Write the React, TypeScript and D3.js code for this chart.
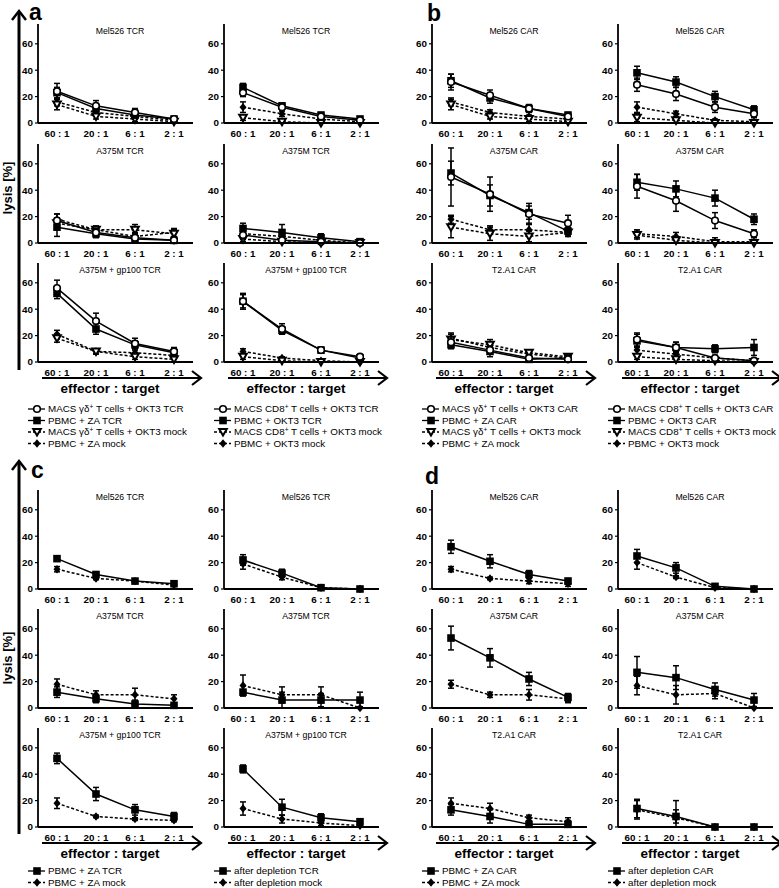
import React from "react";
import * as d3 from "d3";

const W = 779, H = 888;
const FONT = "'Liberation Sans', Arial, sans-serif";

const CATS = ["60 : 1", "20 : 1", "6 : 1", "2 : 1"];
const Y_TICKS = [0, 20, 40, 60];

// legend labels
const legendA1 = ["MACS γδ⁺ T cells + OKT3 TCR", "PBMC + ZA TCR", "MACS γδ⁺ T cells + OKT3 mock", "PBMC + ZA mock"];
const legendA2 = ["MACS CD8⁺ T cells + OKT3 TCR", "PBMC + OKT3 TCR", "MACS CD8⁺ T cells + OKT3 mock", "PBMC + OKT3 mock"];
const legendB1 = ["MACS γδ⁺ T cells + OKT3 CAR", "PBMC + ZA CAR", "MACS γδ⁺ T cells + OKT3 mock", "PBMC + ZA mock"];
const legendB2 = ["MACS CD8⁺ T cells + OKT3 CAR", "PBMC + OKT3 CAR", "MACS CD8⁺ T cells + OKT3 mock", "PBMC + OKT3 mock"];
const legendC1 = ["PBMC + ZA TCR", "PBMC + ZA mock"];
const legendC2 = ["after depletion TCR", "after depletion mock"];
const legendD1 = ["PBMC + ZA CAR", "PBMC + ZA mock"];
const legendD2 = ["after depletion CAR", "after depletion mock"];

// panel a, left column  (series order: γδ TCR, ZA TCR, γδ mock, ZA mock)
const a1Mel526 = [[24, 13, 8, 3], [23, 11, 6, 3], [14, 5, 3, 1], [16, 8, 5, 2]];
const a1Mel526Err = [[6, 4, 3, 1], [4, 3, 2, 1], [4, 2, 2, 1], [3, 2, 1, 1]];
const a1A375 = [[17, 8, 4, 2], [12, 7, 3, 2], [15, 10, 10, 7], [18, 10, 5, 8]];
const a1A375Err = [[5, 3, 3, 2], [7, 3, 2, 2], [4, 3, 4, 3], [4, 2, 3, 3]];
const a1Gp100 = [[56, 31, 14, 8], [52, 25, 13, 7], [18, 8, 4, 2], [21, 8, 7, 5]];
const a1Gp100Err = [[6, 6, 4, 3], [4, 4, 3, 3], [3, 2, 2, 2], [3, 2, 2, 2]];

// panel a, right column (CD8 TCR, OKT3 TCR, CD8 mock, OKT3 mock)
const a2Mel526 = [[23, 12, 5, 2], [27, 13, 6, 3], [4, 1, 0, 0], [12, 7, 3, 1]];
const a2Mel526Err = [[3, 2, 2, 1], [3, 2, 2, 2], [2, 1, 1, 0], [4, 2, 2, 1]];
const a2A375 = [[6, 2, 1, 0], [11, 8, 4, 1], [3, 1, 0, 0], [7, 5, 2, 0]];
const a2A375Err = [[3, 2, 1, 1], [4, 6, 3, 1], [2, 1, 1, 0], [3, 3, 2, 1]];
const a2Gp100 = [[46, 25, 9, 4], [46, 24, 9, 3], [4, 1, 0, 0], [8, 3, 1, 0]];
const a2Gp100Err = [[6, 4, 2, 1], [5, 3, 2, 1], [2, 1, 1, 0], [2, 1, 1, 0]];

// panel b, left column
const b1Mel526 = [[31, 21, 11, 5], [32, 19, 11, 6], [14, 5, 3, 1], [16, 8, 5, 3]];
const b1Mel526Err = [[6, 4, 3, 2], [5, 4, 2, 2], [4, 2, 2, 1], [3, 2, 1, 1]];
const b1A375 = [[50, 37, 22, 15], [53, 36, 23, 9], [12, 7, 5, 8], [18, 10, 10, 8]];
const b1A375Err = [[22, 13, 8, 6], [9, 8, 5, 3], [8, 5, 4, 3], [3, 3, 5, 3]];
const b1T2 = [[15, 9, 3, 2], [13, 8, 2, 3], [17, 13, 7, 4], [18, 11, 6, 3]];
const b1T2Err = [[4, 3, 2, 1], [3, 4, 2, 2], [4, 4, 2, 2], [4, 3, 2, 2]];

// panel b, right column
const b2Mel526 = [[29, 22, 12, 7], [38, 31, 20, 10], [4, 2, 0, 0], [12, 7, 2, 1]];
const b2Mel526Err = [[5, 5, 4, 3], [5, 4, 4, 3], [3, 2, 1, 0], [4, 2, 1, 1]];
const b2A375 = [[43, 32, 17, 7], [46, 41, 34, 18], [6, 2, 0, 0], [7, 5, 1, 1]];
const b2A375Err = [[9, 8, 6, 3], [6, 6, 6, 4], [3, 2, 1, 1], [3, 3, 3, 1]];
const b2T2 = [[17, 11, 3, 1], [16, 11, 10, 11], [4, 2, 1, 0], [9, 6, 3, 1]];
const b2T2Err = [[5, 4, 2, 1], [5, 4, 3, 6], [2, 2, 1, 1], [3, 2, 2, 1]];

// panel c (TCR / mock)
const c1Mel526 = [[23, 11, 6, 4], [15, 8, 6, 3]];
const c1Mel526Err = [[2, 2, 1, 1], [2, 1, 1, 1]];
const c1A375 = [[12, 7, 3, 2], [18, 10, 10, 7]];
const c1A375Err = [[4, 3, 3, 2], [4, 3, 5, 3]];
const c1Gp100 = [[52, 25, 13, 8], [18, 8, 6, 5]];
const c1Gp100Err = [[4, 5, 4, 3], [4, 1, 1, 1]];
const c2Mel526 = [[22, 12, 1, 0], [19, 9, 1, 0]];
const c2Mel526Err = [[4, 3, 1, 0], [4, 2, 1, 0]];
const c2A375 = [[12, 6, 6, 6], [17, 10, 10, 0]];
const c2A375Err = [[2, 6, 5, 6], [8, 6, 6, 1]];
const c2Gp100 = [[44, 15, 7, 4], [14, 6, 3, 1]];
const c2Gp100Err = [[3, 6, 3, 1], [5, 3, 2, 1]];

// panel d (CAR / mock)
const d1Mel526 = [[32, 21, 11, 6], [15, 8, 6, 4]];
const d1Mel526Err = [[5, 5, 3, 2], [2, 1, 2, 2]];
const d1A375 = [[53, 38, 22, 8], [18, 10, 10, 7]];
const d1A375Err = [[9, 7, 5, 3], [3, 2, 4, 3]];
const d1T2 = [[13, 8, 2, 2], [18, 14, 7, 4]];
const d1T2Err = [[4, 5, 2, 3], [4, 4, 2, 3]];
const d2Mel526 = [[25, 16, 2, 0], [20, 9, 1, 0]];
const d2Mel526Err = [[5, 4, 1, 0], [5, 1, 1, 0]];
const d2A375 = [[27, 23, 14, 6], [17, 10, 11, 0]];
const d2A375Err = [[12, 9, 5, 5], [7, 7, 4, 1]];
const d2T2 = [[14, 8, 0, 0], [13, 7, 0, 0]];
const d2T2Err = [[7, 5, 0, 0], [7, 13, 0, 0]];

const COL_X = [38, 224, 432, 618];
const TOP_ROWS = [123, 243, 362];
const BOT_ROWS = [589, 708, 827];

const SHAPES4 = ["circle", "square", "triangle", "diamond"];
const SHAPES2 = ["square", "diamond"];

const panels = [
  { c: 0, y0: TOP_ROWS[0], title: "Mel526 TCR", m: a1Mel526, e: a1Mel526Err },
  { c: 0, y0: TOP_ROWS[1], title: "A375M TCR", m: a1A375, e: a1A375Err },
  { c: 0, y0: TOP_ROWS[2], title: "A375M + gp100 TCR", m: a1Gp100, e: a1Gp100Err },
  { c: 1, y0: TOP_ROWS[0], title: "Mel526 TCR", m: a2Mel526, e: a2Mel526Err },
  { c: 1, y0: TOP_ROWS[1], title: "A375M TCR", m: a2A375, e: a2A375Err },
  { c: 1, y0: TOP_ROWS[2], title: "A375M + gp100 TCR", m: a2Gp100, e: a2Gp100Err },
  { c: 2, y0: TOP_ROWS[0], title: "Mel526 CAR", m: b1Mel526, e: b1Mel526Err },
  { c: 2, y0: TOP_ROWS[1], title: "A375M CAR", m: b1A375, e: b1A375Err },
  { c: 2, y0: TOP_ROWS[2], title: "T2.A1 CAR", m: b1T2, e: b1T2Err },
  { c: 3, y0: TOP_ROWS[0], title: "Mel526 CAR", m: b2Mel526, e: b2Mel526Err },
  { c: 3, y0: TOP_ROWS[1], title: "A375M CAR", m: b2A375, e: b2A375Err },
  { c: 3, y0: TOP_ROWS[2], title: "T2.A1 CAR", m: b2T2, e: b2T2Err },
  { c: 0, y0: BOT_ROWS[0], title: "Mel526 TCR", m: c1Mel526, e: c1Mel526Err },
  { c: 0, y0: BOT_ROWS[1], title: "A375M TCR", m: c1A375, e: c1A375Err },
  { c: 0, y0: BOT_ROWS[2], title: "A375M + gp100 TCR", m: c1Gp100, e: c1Gp100Err },
  { c: 1, y0: BOT_ROWS[0], title: "Mel526 TCR", m: c2Mel526, e: c2Mel526Err },
  { c: 1, y0: BOT_ROWS[1], title: "A375M TCR", m: c2A375, e: c2A375Err },
  { c: 1, y0: BOT_ROWS[2], title: "A375M + gp100 TCR", m: c2Gp100, e: c2Gp100Err },
  { c: 2, y0: BOT_ROWS[0], title: "Mel526 CAR", m: d1Mel526, e: d1Mel526Err },
  { c: 2, y0: BOT_ROWS[1], title: "A375M CAR", m: d1A375, e: d1A375Err },
  { c: 2, y0: BOT_ROWS[2], title: "T2.A1 CAR", m: d1T2, e: d1T2Err },
  { c: 3, y0: BOT_ROWS[0], title: "Mel526 CAR", m: d2Mel526, e: d2Mel526Err },
  { c: 3, y0: BOT_ROWS[1], title: "A375M CAR", m: d2A375, e: d2A375Err },
  { c: 3, y0: BOT_ROWS[2], title: "T2.A1 CAR", m: d2T2, e: d2T2Err },
];

const legends = [
  { c: 0, y: 409, labels: legendA1 }, { c: 1, y: 409, labels: legendA2 },
  { c: 2, y: 409, labels: legendB1 }, { c: 3, y: 409, labels: legendB2 },
  { c: 0, y: 871, labels: legendC1 }, { c: 1, y: 871, labels: legendC2 },
  { c: 2, y: 871, labels: legendD1 }, { c: 3, y: 871, labels: legendD2 },
];

function Marker({ shape, x, y }: { shape: string; x: number; y: number }) {
  if (shape === "circle")
    return <circle cx={x} cy={y} r={3.3} fill="#fff" stroke="#000" strokeWidth={1.6} />;
  if (shape === "square")
    return <rect x={x - 3.8} y={y - 3.8} width={7.6} height={7.6} fill="#000" />;
  if (shape === "triangle")
    return <path d={`M${x - 3.8},${y - 3}L${x + 3.8},${y - 3}L${x},${y + 3.6}Z`} fill="#fff" stroke="#000" strokeWidth={2} />;
  return <path d={`M${x},${y - 4.2}L${x + 3.5},${y}L${x},${y + 4.2}L${x - 3.5},${y}Z`} fill="#000" />;
}

function supText(s: string) {
  const parts = s.split("⁺");
  if (parts.length === 1) return s;
  return [
    parts[0],
    <tspan key="s" dy={-3.5} fontSize={6.5}>+</tspan>,
    <tspan key="r" dy={3.5}>{parts[1]}</tspan>,
  ];
}

function Panel({ p }: { p: any }) {
  const x0 = COL_X[p.c];
  const y = d3.scaleLinear().domain([0, 75]).range([p.y0, p.y0 - 99]);
  const x = d3.scalePoint<string>().domain(CATS).range([x0 + 19, x0 + 136]);
  const shapes = p.m.length === 4 ? SHAPES4 : SHAPES2;
  const dashedFrom = p.m.length === 4 ? 2 : 1;
  const line = d3.line<number>().x((_, i) => x(CATS[i]) as number).y((v) => y(v));
  const order = p.m.map((_: any, i: number) => i).reverse();
  return (
    <g>
      <text x={x0 + 82} y={p.y0 - 89} fontSize={8.7} textAnchor="middle">{p.title}</text>
      {order.map((si: number) => (
        <g key={si}>
          <path d={line(p.m[si]) as string} fill="none" stroke="#000" strokeWidth={1.5}
            strokeDasharray={si >= dashedFrom ? "3,2" : undefined} />
          {p.m[si].map((v: number, i: number) => {
            const cx = x(CATS[i]) as number;
            const er = p.e[si][i];
            if (!er) return null;
            const lo = y(Math.max(0, v - er)), hi = y(v + er);
            return (
              <g key={i} stroke="#000" strokeWidth={1.5}>
                <line x1={cx} x2={cx} y1={lo} y2={hi} />
                <line x1={cx - 3} x2={cx + 3} y1={hi} y2={hi} />
                <line x1={cx - 3} x2={cx + 3} y1={lo} y2={lo} />
              </g>
            );
          })}
          {p.m[si].map((v: number, i: number) => (
            <Marker key={"m" + i} shape={shapes[si]} x={x(CATS[i]) as number} y={y(v)} />
          ))}
        </g>
      ))}
      <line x1={x0} x2={x0} y1={y(0)} y2={y(75)} stroke="#000" strokeWidth={1.8} />
      <line x1={x0} x2={x0 + 155} y1={y(0)} y2={y(0)} stroke="#000" strokeWidth={1.8} />
      {Y_TICKS.map((t) => (
        <g key={t}>
          <line x1={x0 - 3} x2={x0} y1={y(t)} y2={y(t)} stroke="#000" strokeWidth={1.2} />
          <text x={x0 - 5} y={y(t)} dy="0.35em" fontSize={9.8} fontWeight="bold" textAnchor="end">{t}</text>
        </g>
      ))}
      {CATS.map((c) => (
        <text key={c} x={x(c)} y={p.y0 + 14} fontSize={9.8} fontWeight="bold" textAnchor="middle">{c}</text>
      ))}
    </g>
  );
}

function Legend({ l }: { l: any }) {
  const x0 = COL_X[l.c];
  const shapes = l.labels.length === 4 ? SHAPES4 : SHAPES2;
  const dashedFrom = l.labels.length === 4 ? 2 : 1;
  return (
    <g>
      {l.labels.map((lab: string, i: number) => {
        const yy = l.y + i * 11.5;
        return (
          <g key={i}>
            <line x1={x0 - 10} x2={x0 + 7} y1={yy} y2={yy} stroke="#000" strokeWidth={1.3}
              strokeDasharray={i >= dashedFrom ? "3,2" : undefined} />
            <Marker shape={shapes[i]} x={x0 - 1} y={yy} />
            <text x={x0 + 10} y={yy} dy="0.35em" fontSize={9.8}>{supText(lab)}</text>
          </g>
        );
      })}
    </g>
  );
}

function XArrow({ x0, y }: { x0: number; y: number }) {
  const tip = x0 + 163;
  return (
    <g stroke="#000" strokeWidth={2} fill="none">
      <line x1={x0 + 4} x2={tip} y1={y} y2={y} />
      <path d={`M${tip - 9},${y - 7}L${tip},${y}L${tip - 9},${y + 7}`} strokeWidth={2.2} />
    </g>
  );
}

function YArrow({ top, bottom, x }: { top: number; bottom: number; x: number }) {
  return (
    <g stroke="#000" fill="none">
      <line x1={x} x2={x} y1={top + 1} y2={bottom} strokeWidth={3} />
      <path d={`M${x - 7},${top + 9}L${x},${top}L${x + 7},${top + 9}`} strokeWidth={2.5} />
    </g>
  );
}

export default function App() {
  return (
    <svg width={W} height={H} style={{ position: "absolute", left: 0, top: 0, background: "#fff" }}
      fontFamily={FONT}>
      <rect width={W} height={H} fill="#fff" />
      <YArrow x={19} top={11} bottom={370} />
      <YArrow x={19} top={461} bottom={834} />
      <text transform="translate(12,188) rotate(-90)" fontSize={13} fontWeight="bold" textAnchor="middle">lysis [%]</text>
      <text transform="translate(12,658) rotate(-90)" fontSize={13} fontWeight="bold" textAnchor="middle">lysis [%]</text>
      <text x={29} y={20} fontSize={23} fontWeight="bold">a</text>
      <text x={427} y={21} fontSize={23} fontWeight="bold">b</text>
      <text x={31} y={478} fontSize={23} fontWeight="bold">c</text>
      <text x={425} y={484} fontSize={23} fontWeight="bold">d</text>
      {panels.map((p, i) => <Panel key={i} p={p} />)}
      {COL_X.map((x0) => (
        <g key={x0}>
          <XArrow x0={x0} y={TOP_ROWS[2] + 16} />
          <XArrow x0={x0} y={BOT_ROWS[2] + 16} />
          <text x={x0 + 72} y={TOP_ROWS[2] + 31} fontSize={13.5} fontWeight="bold" textAnchor="middle">effector : target</text>
          <text x={x0 + 72} y={BOT_ROWS[2] + 31} fontSize={13.5} fontWeight="bold" textAnchor="middle">effector : target</text>
        </g>
      ))}
      {legends.map((l, i) => <Legend key={i} l={l} />)}
    </svg>
  );
}
